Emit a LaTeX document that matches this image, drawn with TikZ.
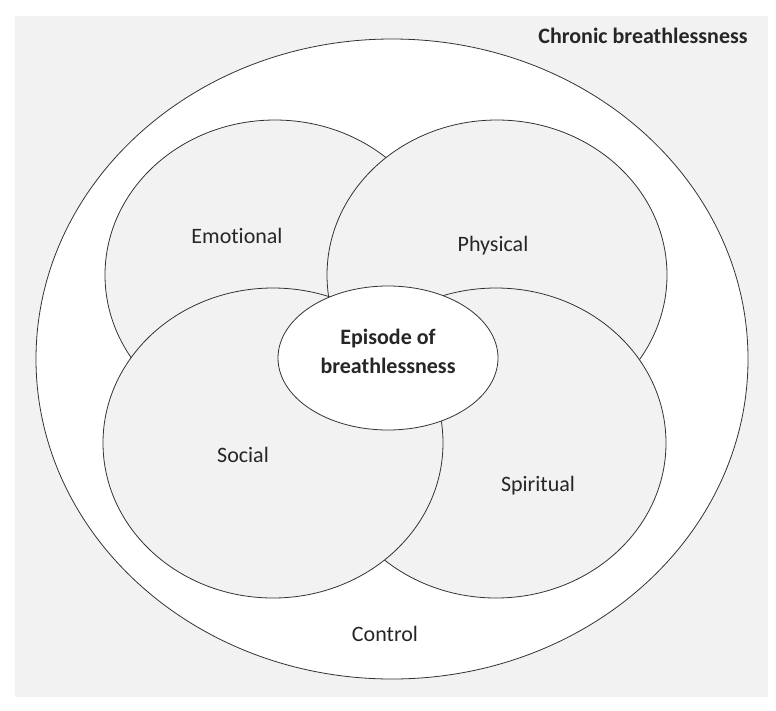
\documentclass[tikz,border=0pt]{standalone}
\usepackage{fontspec}
\setmainfont{Carlito}[Ligatures=NoCommon]
\definecolor{bg}{HTML}{F2F2F2}
\begin{document}
\begin{tikzpicture}[x=1pt,y=-1pt,
  ring/.style={draw=black!80,line width=0.8pt},
  lab/.style={font=\fontsize{22}{26}\selectfont,text=black!85}]
\useasboundingbox (0,0) rectangle (776,710);
\fill[white] (0,0) rectangle (776,710);
\fill[bg] (15,16) rectangle (768,697);
\draw[ring,fill=white] (392,359) ellipse [x radius=356,y radius=320];
\draw[ring,fill=bg] (275,275) ellipse [x radius=170,y radius=155];
\draw[ring,fill=bg] (497,275) ellipse [x radius=170,y radius=155];
\draw[ring,fill=bg] (496,443) ellipse [x radius=170,y radius=155];
\draw[ring,fill=bg] (273,443) ellipse [x radius=170,y radius=155];
\draw[ring,fill=white] (388,358) ellipse [x radius=110,y radius=72];
\node[lab,font=\bfseries\fontsize{22}{26}\selectfont] (chronic) at (643,36) {Chronic breathlessness};
\node[lab] (emo) at (237,236) {Emotional};
\node[lab] (phys) at (493,246) {Physical};
\node[lab,align=center,font=\bfseries\fontsize{22}{29}\selectfont] (epi) at (388,351) {Episode of\\breathlessness};
\node[lab] (soc) at (243,455) {Social};
\node[lab] (spi) at (538,486) {Spiritual};
\node[lab] (ctl) at (385,634) {Control};
\end{tikzpicture}
\end{document}
